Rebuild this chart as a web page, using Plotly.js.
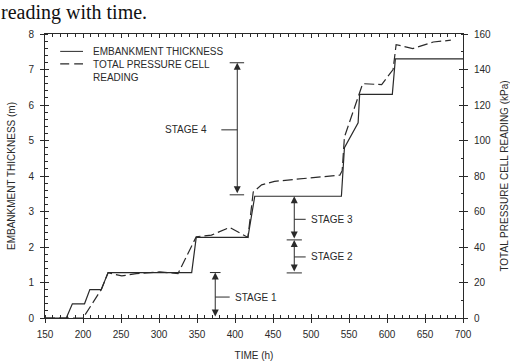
<!DOCTYPE html>
<html>
<head>
<meta charset="utf-8">
<script src="https://cdn.plot.ly/plotly-3.0.1.min.js"></script>
<style>
html,body{margin:0;padding:0;background:#fff;}
#chart{width:510px;height:361px;}
</style>
</head>
<body>
<div id="chart"></div>
<script>
// Embankment thickness (m) vs time (h)
var thickTime = [150, 178, 186, 202, 209, 224, 233, 343, 349, 417, 426, 540, 544, 562, 564, 607, 611, 700];
var thickM    = [0,   0,   0.4, 0.4, 0.8, 0.8, 1.28,1.28,2.27,2.27,3.43,3.43,4.8, 5.5, 6.3, 6.3, 7.3, 7.3];

// Total pressure cell reading (kPa) vs time (h)
var pressTime = [150, 200, 224, 233, 251, 270, 301, 325, 349, 369, 393, 417, 424, 435, 452, 538, 541, 542, 544, 568, 593, 608, 612, 634, 661, 684];
var pressKpa  = [0,   0,   16,  25.5,23.7,25,  26,  25,  45.8,46.7,51,  45.4,71,  75,  77,  80.5,83,  90,  102, 132, 131.5,140, 154, 151.8,155.5,156.5];

var xTicks = [150,200,250,300,350,400,450,500,550,600,650,700];
var yLeftTicks = [0,1,2,3,4,5,6,7,8];
var yRightTicks = [0,20,40,60,80,100,120,140,160];

var stageLabels = ['STAGE 1','STAGE 2','STAGE 3','STAGE 4'];
var legendLabels = ['EMBANKMENT THICKNESS','TOTAL PRESSURE CELL<br>READING'];

var ink = '#2a2a2a';
var FONT = 'Liberation Sans, Arial, sans-serif';

var traces = [
  {x: thickTime, y: thickM, type:'scatter', mode:'lines', xaxis:'x', yaxis:'y',
   line:{color:ink, width:1.2}, showlegend:false, hoverinfo:'skip'},
  {x: pressTime, y: pressKpa, type:'scatter', mode:'lines', xaxis:'x', yaxis:'y2',
   line:{color:ink, width:1.2, dash:'10px,4px'}, showlegend:false, hoverinfo:'skip'},
  {x:[], y:[], xaxis:'x2', yaxis:'y', showlegend:false},
  {x:[], y:[], xaxis:'x3', yaxis:'y', showlegend:false},
  {x:[], y:[], xaxis:'x', yaxis:'y3', showlegend:false},
  {x:[], y:[], xaxis:'x', yaxis:'y4', showlegend:false}
];

var shapes = [];
var annotations = [];
function seg(x0,y0,x1,y1){ shapes.push({type:'line', xref:'x', yref:'y', x0:x0, y0:y0, x1:x1, y1:y1, line:{color:ink, width:1}}); }
function dbl(x, y0, y1){
  annotations.push({xref:'x', yref:'y', axref:'x', ayref:'y', x:x, y:y1, ax:x, ay:y0, text:'',
    showarrow:true, arrowside:'end+start', arrowhead:2, arrowsize:1.4, arrowwidth:1, arrowcolor:ink, standoff:0, startstandoff:0});
}
function lab(x, y, t, anchor){
  annotations.push({xref:'x', yref:'y', x:x, y:y, text:t, showarrow:false, xanchor:anchor, yanchor:'middle',
    font:{family:FONT, size:10, color:ink}});
}
// Stage 1
seg(367, 1.28, 381, 1.28); dbl(374, 0, 1.28); seg(374, 0.59, 393, 0.59); lab(398, 0.59, stageLabels[0], 'left');
// Stage 2 and 3
seg(468, 1.27, 488, 1.27); seg(468, 2.2, 488, 2.2);
dbl(478, 1.27, 2.2); dbl(478, 2.2, 3.43);
seg(478, 1.72, 493, 1.72); lab(498, 1.72, stageLabels[1], 'left');
seg(478, 2.78, 493, 2.78); lab(498, 2.78, stageLabels[2], 'left');
// Stage 4
seg(393, 3.47, 412, 3.47); seg(393, 7.19, 412, 7.19);
dbl(403, 3.47, 7.19);
seg(382, 5.3, 403, 5.3); lab(366, 5.3, stageLabels[3], 'right');

// Legend
seg(170, 7.51, 200, 7.51);
shapes.push({type:'line', xref:'x', yref:'y', x0:170, y0:7.16, x1:200, y1:7.16, line:{color:ink, width:1.2, dash:'9px,5px'}});
lab(211, 7.51, legendLabels[0], 'left');
annotations.push({xref:'x', yref:'y', x:211, y:7.16, text:legendLabels[1], showarrow:false, xanchor:'left', yanchor:'top',
  yshift:7, align:'left', font:{family:FONT, size:10, color:ink}});

// Top caption fragment
annotations.push({xref:'paper', yref:'paper', x:-0.108, y:1.1195, xanchor:'left', yanchor:'top', borderpad:0, showarrow:false,
  text:'reading with time.', font:{family:'Liberation Serif, Times New Roman, serif', size:20, color:'#111'}});

var axCommon = {showgrid:false, zeroline:false, tickcolor:ink, linecolor:ink, linewidth:1, tickwidth:1};

var layout = {
  width:510, height:361,
  margin:{l:45, r:47, t:34, b:43, pad:0},
  paper_bgcolor:'#fff', plot_bgcolor:'#fff',
  font:{family:FONT, size:10, color:ink},
  showlegend:false,
  xaxis: Object.assign({}, axCommon, {range:[150,700], tickvals:xTicks, ticks:'outside', ticklen:4,
    minor:{dtick:10, ticks:'inside', ticklen:3, tickcolor:ink, tickwidth:1}, showline:true, anchor:'y',
    ticklabelstandoff:3, tickfont:{size:10, color:ink},
    title:{text:'TIME (h)', font:{size:10, color:ink}, standoff:13}}),
  xaxis2: Object.assign({}, axCommon, {range:[150,700], tickvals:xTicks, ticks:'inside', ticklen:4, overlaying:'x', side:'bottom', anchor:'y', showticklabels:false, showline:false}),
  xaxis3: Object.assign({}, axCommon, {range:[150,700], tickvals:xTicks, ticks:'inside', ticklen:4, overlaying:'x', side:'top', anchor:'y', showticklabels:false, showline:true,
    minor:{dtick:10, ticks:'inside', ticklen:2.5, tickcolor:ink, tickwidth:1}}),
  yaxis: Object.assign({}, axCommon, {range:[0,8], tickvals:yLeftTicks, ticks:'outside', ticklen:4, showline:true, anchor:'x',
    minor:{dtick:0.2, ticks:'inside', ticklen:2.5, tickcolor:ink, tickwidth:1},
    ticklabelstandoff:4, tickfont:{size:10, color:ink},
    title:{text:'EMBANKMENT THICKNESS (m)', font:{size:10, color:ink}, standoff:10}}),
  yaxis3: Object.assign({}, axCommon, {range:[0,8], tickvals:yLeftTicks, ticks:'inside', ticklen:4, overlaying:'y', side:'left', anchor:'x', showticklabels:false, showline:false}),
  yaxis2: Object.assign({}, axCommon, {range:[0,160], tickvals:yRightTicks, ticks:'outside', ticklen:4, overlaying:'y', side:'right', anchor:'x', showline:true,
    minor:{dtick:10, ticks:'inside', ticklen:2.5, tickcolor:ink, tickwidth:1},
    ticklabelstandoff:4, tickfont:{size:10, color:ink},
    title:{text:'TOTAL PRESSURE CELL READING (kPa)', font:{size:10, color:ink}, standoff:10}}),
  yaxis4: Object.assign({}, axCommon, {range:[0,160], tickvals:yRightTicks, ticks:'inside', ticklen:4, overlaying:'y', side:'right', anchor:'x', showticklabels:false, showline:false}),
  shapes: shapes,
  annotations: annotations
};

Plotly.newPlot('chart', traces, layout, {staticPlot:true, displayModeBar:false});
</script>
</body>
</html>
